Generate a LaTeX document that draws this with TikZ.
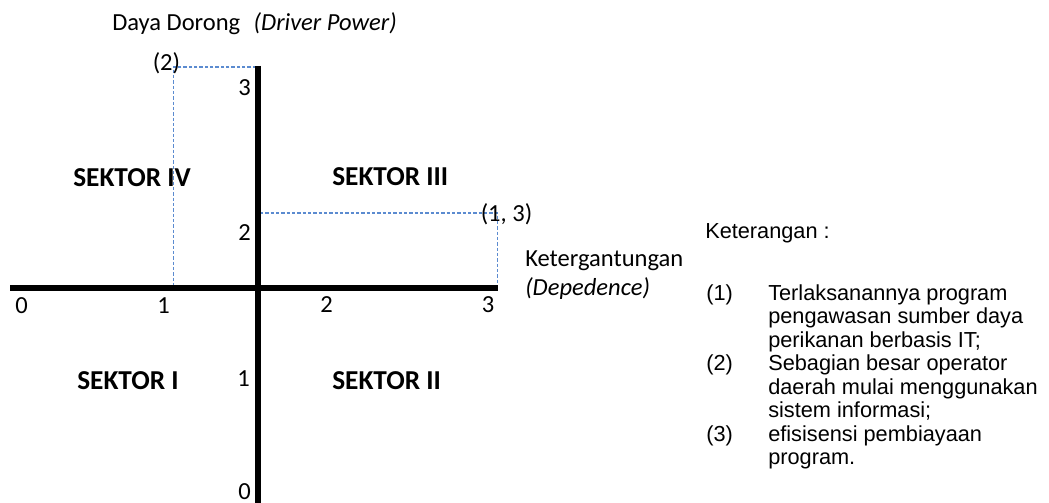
\documentclass[tikz,border=0pt]{standalone}
\usepackage{fontspec}
\setmainfont{Carlito}
\newfontfamily\arialfont{Liberation Sans}
\definecolor{dashblue}{HTML}{5B8BD0}
\begin{document}
\begin{tikzpicture}[x=0.75pt,y=-0.75pt,
  lbl/.style={anchor=base west,inner sep=0pt,font=\fontsize{18.4pt}{22pt}\selectfont},
  sek/.style={anchor=base west,inner sep=0pt,font=\fontsize{20.5pt}{24pt}\selectfont\bfseries},
  leg/.style={anchor=base west,inner sep=0pt,font=\arialfont\fontsize{16.3pt}{18pt}\selectfont},
  axis/.style={line width=3.8pt},
  guide/.style={draw=dashblue,line width=0.9pt,dash pattern=on 2.5pt off 1.5pt}]
\useasboundingbox (0,0) rectangle (1049,503);
% axes
\coordinate (xl) at (10,288);
\coordinate (xr) at (497.5,288);
\coordinate (yt) at (258,66);
\coordinate (yb) at (258,505);
% guide corners
\coordinate (g2) at (173.3,67);
\coordinate (g2a) at (256,67);
\coordinate (g2b) at (173.3,288);
\coordinate (g1a) at (260,213);
\coordinate (g1) at (497.5,213);
\coordinate (g1b) at (497.5,288);
\draw[guide] (g2a) -- (g2) -- (g2b);
\draw[guide] (g1a) -- (g1) -- (g1b);
\draw[axis] (xl) -- (xr);
\draw[axis] (yt) -- (yb);
% titles
\node[lbl] (title) at (112,31) {Daya Dorong\hspace{0.55em}\textit{(Driver Power)}};
\node[lbl] (p2) at (152.5,70) {(2)};
\node[lbl] (p13) at (480.5,221.5) {(1, 3)};
\node[lbl] (ket) at (525,266.5) {Ketergantungan};
\node[lbl] (dep) at (525,295) {\textit{(Depedence)}};
% y-axis numbers
\node[lbl] (y3) at (238,95) {3};
\node[lbl] (y2) at (238,240.5) {2};
\node[lbl] (y1) at (237,386) {1};
\node[lbl] (y0) at (238,499) {0};
% x-axis numbers
\node[lbl] (x0) at (15,313) {0};
\node[lbl] (x1) at (157,313) {1};
\node[lbl] (x2) at (320,312) {2};
\node[lbl] (x3) at (481.5,312) {3};
% sectors
\node[sek] (s4) at (73,186) {SEKTOR IV};
\node[sek] (s3) at (332,185) {SEKTOR III};
\node[sek] (s1) at (77,389) {SEKTOR I};
\node[sek] (s2) at (332,389) {SEKTOR II};
% legend
\node[leg] (kt) at (705,238) {Keterangan :};
\node[leg] (n1) at (706,300) {(1)};
\node[leg] (t1a) at (768,300) {Terlaksanannya program};
\node[leg] (t1b) at (768,323.5) {pengawasan sumber daya};
\node[leg] (t1c) at (768,347) {perikanan berbasis IT;};
\node[leg] (n2) at (706,370.5) {(2)};
\node[leg] (t2a) at (768,370.5) {Sebagian besar operator};
\node[leg] (t2b) at (768,394) {daerah mulai menggunakan};
\node[leg] (t2c) at (768,417.5) {sistem informasi;};
\node[leg] (n3) at (706,441) {(3)};
\node[leg] (t3a) at (768,441) {efisisensi pembiayaan};
\node[leg] (t3b) at (768,464.5) {program.};
\end{tikzpicture}
\end{document}
